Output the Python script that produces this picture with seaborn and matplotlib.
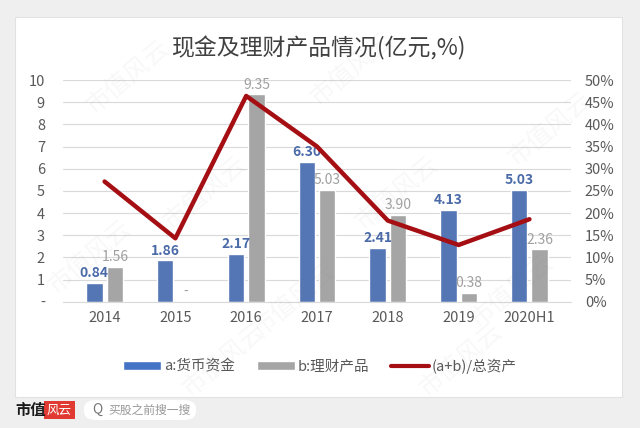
import pandas as pd
import seaborn as sns
import matplotlib.pyplot as plt
from matplotlib.patches import Patch, Rectangle, FancyBboxPatch
from matplotlib.lines import Line2D

years = ['2014', '2015', '2016', '2017', '2018', '2019', '2020H1']
cash = [0.84, 1.86, 2.17, 6.30, 2.41, 4.13, 5.03]
wealth = [1.56, 0.00, 9.35, 5.03, 3.90, 0.38, 2.36]
ratio = [27.1, 14.3, 46.4, 35.0, 18.3, 12.8, 18.6]

name_a = 'a:货币资金'
name_b = 'b:理财产品'
name_r = '(a+b)/总资产'

blue = '#4472C4'
grey = '#A5A5A5'
red = '#A50E12'

sns.set_style('white')
plt.rcParams['font.family'] = ['Noto Sans CJK SC', 'DejaVu Sans']

df = pd.DataFrame({'year': years * 2,
                   'value': cash + wealth,
                   'kind': [name_a] * len(years) + [name_b] * len(years)})
df_r = pd.DataFrame({'year': years, 'ratio': ratio})

fig = plt.figure(figsize=(6.4, 4.28), dpi=100)
fig.patch.set_facecolor('#efefef')
# white card behind everything
fig.patches.append(Rectangle((15 / 640, 1 - 397 / 428), 607 / 640, 380 / 428,
                             transform=fig.transFigure, facecolor='white',
                             edgecolor='#e2e2e2', lw=0.8, zorder=-5))

ax = fig.add_axes([63 / 640, 1 - 301.7 / 428, 508 / 640, 221.7 / 428])
ax.set_facecolor('none')
sns.barplot(data=df, x='year', y='value', hue='kind', order=years,
            palette=[blue, grey], width=0.58, gap=0.2, ax=ax,
            legend=False, zorder=2)

ax.set_ylim(0, 10)
ax.set_yticks(range(0, 11))
ax.set_yticklabels(['-'] + [str(i) for i in range(1, 11)])
ax.yaxis.grid(True, color='#d9d9d9', lw=0.8, zorder=0)
ax.set_axisbelow(True)
for s in ax.spines.values():
    s.set_visible(False)
ax.spines['bottom'].set_visible(True)
ax.spines['bottom'].set_color('#d9d9d9')
ax.set_xlabel('')
ax.set_ylabel('')
ax.tick_params(axis='both', length=0, labelsize=10.5, colors='#595959')
ax.tick_params(axis='x', pad=7)
ax.tick_params(axis='y', pad=13)

ax.bar_label(ax.containers[0], labels=[f'{v:.2f}' for v in cash],
             color='#4a6aa8', fontsize=10, fontweight='bold', padding=2)
ax.bar_label(ax.containers[1],
             labels=[f'{v:.2f}' if v > 0 else '-' for v in wealth],
             color='#a0a0a0', fontsize=10, padding=2)

ax2 = ax.twinx()
sns.lineplot(data=df_r, x='year', y='ratio', color=red, lw=3.2, ax=ax2,
             sort=False, zorder=3)
ax2.set_ylim(0, 50)
ax2.set_yticks(range(0, 51, 5))
ax2.set_yticklabels([f'{i}%' for i in range(0, 51, 5)])
for s in ax2.spines.values():
    s.set_visible(False)
ax2.set_xlabel('')
ax2.set_ylabel('')
ax2.tick_params(axis='y', length=0, labelsize=10.5, colors='#595959', pad=10)

fig.text(318 / 640, 1 - 48 / 428, '现金及理财产品情况(亿元,%)', ha='center',
         va='center', fontsize=16.5, color='#404040')

handles = [Patch(facecolor=blue), Patch(facecolor=grey),
           Line2D([0], [0], color=red, lw=3)]
fig.legend(handles, [name_a, name_b, name_r], loc='center',
           bbox_to_anchor=(0.5, 1 - 366 / 428), ncol=3, frameon=False,
           fontsize=10.5, handlelength=2.6, handleheight=0.6,
           columnspacing=1.5, handletextpad=0.2, labelcolor='#595959')

# faint watermarks, kept inside the card
for wx, wy in [(0.2, 0.82), (0.55, 0.84), (0.32, 0.55), (0.62, 0.55),
               (0.86, 0.7), (0.14, 0.4), (0.46, 0.3), (0.8, 0.32),
               (0.35, 0.16), (0.72, 0.16)]:
    fig.text(wx, wy, '市值风云', rotation=40, fontsize=18, color='#888888',
             alpha=0.06, ha='center', va='center')

# footer
fig.text(15 / 640, 1 - 410 / 428, '市值', fontsize=11, fontweight='bold',
         color='#1a1a1a', va='center')
fig.patches.append(Rectangle((44 / 640, 1 - 419 / 428), 31 / 640, 18 / 428,
                             transform=fig.transFigure, facecolor='#e03a32',
                             edgecolor='none'))
fig.text(59.5 / 640, 1 - 410 / 428, '风云', fontsize=9, fontstyle='italic',
         color='white', ha='center', va='center')
fig.patches.append(FancyBboxPatch((84 / 640, 1 - 420 / 428), 112 / 640, 20 / 428,
                                  boxstyle='round,pad=0,rounding_size=0.02',
                                  transform=fig.transFigure, facecolor='white',
                                  edgecolor='none'))
fig.text(92 / 640, 1 - 410 / 428, 'Q', fontsize=10, color='#777777', va='center')
fig.text(108 / 640, 1 - 410 / 428, '买股之前搜一搜', fontsize=8.5,
         color='#999999', va='center')

fig.savefig('out.png', dpi=100, facecolor=fig.get_facecolor())
